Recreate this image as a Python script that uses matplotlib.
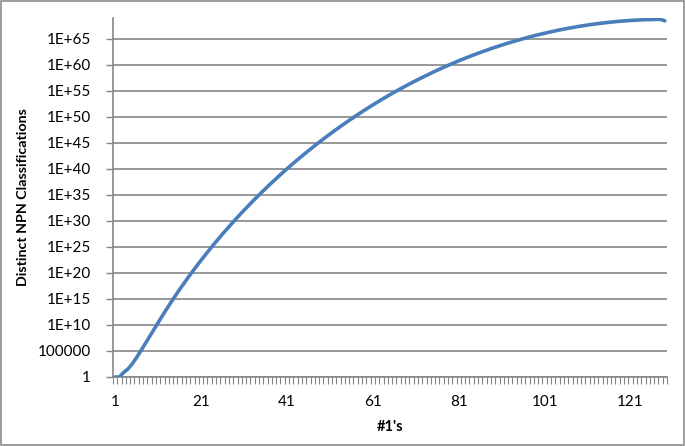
import numpy as np
from matplotlib import pyplot as plt
from matplotlib.patches import Rectangle
from matplotlib.ticker import FixedLocator, FuncFormatter

# number of ones (category axis 1..129)
ones = np.arange(1, 130)

# log10 of the distinct NPN classification count
log_classes = [
    0.00, 0.00, 0.90, 1.55, 2.55, 3.75, 5.05, 6.40, 7.75, 9.10,
    10.45, 11.78, 13.09, 14.36, 15.60, 16.81, 17.99, 19.14, 20.26, 21.36,
    22.43, 23.48, 24.51, 25.52, 26.51, 27.48, 28.42, 29.35, 30.27, 31.16,
    32.04, 32.90, 33.75, 34.58, 35.40, 36.20, 36.99, 37.76, 38.52, 39.27,
    40.01, 40.73, 41.44, 42.13, 42.82, 43.49, 44.15, 44.80, 45.44, 46.07,
    46.69, 47.29, 47.89, 48.48, 49.05, 49.62, 50.17, 50.72, 51.25, 51.78,
    52.29, 52.80, 53.30, 53.79, 54.27, 54.74, 55.20, 55.65, 56.09, 56.53,
    56.96, 57.37, 57.78, 58.19, 58.58, 58.96, 59.34, 59.71, 60.07, 60.42,
    60.77, 61.11, 61.43, 61.76, 62.07, 62.38, 62.67, 62.97, 63.25, 63.52,
    63.79, 64.05, 64.31, 64.55, 64.79, 65.03, 65.25, 65.47, 65.68, 65.88,
    66.08, 66.26, 66.45, 66.62, 66.79, 66.95, 67.10, 67.25, 67.39, 67.52,
    67.65, 67.77, 67.88, 67.98, 68.08, 68.17, 68.26, 68.34, 68.41, 68.47,
    68.53, 68.58, 68.63, 68.66, 68.69, 68.72, 68.73, 68.74, 68.45,
]

x_labels = [1, 21, 41, 61, 81, 101, 121]
y_exponents = list(range(0, 70, 5))

grey = "#868686"
blue = "#4A7EBB"


def y_label(value, pos):
    e = int(round(np.log10(value)))
    if e < 10:
        return str(int(round(value)))
    return "1E+%d" % e


def main():
    plt.rcParams["font.family"] = ["Lato", "DejaVu Sans"]

    fig = plt.figure(figsize=(6.85, 4.46), dpi=100)
    ax = fig.add_axes([113 / 685, 1 - 377 / 446, 554 / 685, 359 / 446])

    values = 10.0 ** np.array(log_classes)
    ax.plot(ones, values, color=blue, lw=2.6, solid_capstyle="round", zorder=3)

    ax.set_yscale("log")
    ax.set_ylim(1, 1e69)
    ax.set_xlim(0.5, 129.5)

    ax.yaxis.set_major_locator(FixedLocator([10.0 ** e for e in y_exponents]))
    ax.yaxis.set_minor_locator(FixedLocator([]))
    ax.yaxis.set_major_formatter(FuncFormatter(y_label))
    ax.grid(axis="y", color=grey, lw=1.2)
    ax.set_axisbelow(True)

    ax.xaxis.set_major_locator(FixedLocator(x_labels))
    ax.xaxis.set_minor_locator(FixedLocator(np.arange(0.5, 130, 1)))
    ax.tick_params(axis="x", which="major", length=0, pad=13, labelsize=11)
    ax.tick_params(axis="x", which="minor", length=5, width=0.8, color=grey,
                   direction="out")
    ax.tick_params(axis="y", which="major", length=5, width=1, color=grey,
                   direction="out", pad=11, labelsize=11)

    for side in ["top", "right"]:
        ax.spines[side].set_visible(False)
    for side in ["left", "bottom"]:
        ax.spines[side].set_color(grey)
        ax.spines[side].set_linewidth(1.2)

    ax.set_xlabel("#1's", fontweight="bold", fontsize=10.5, labelpad=8)
    ax.set_ylabel("Distinct NPN Classifications", fontweight="bold",
                  fontsize=10.3, labelpad=6)

    fig.patches.append(Rectangle((0.002, 0.003), 0.996, 0.994,
                                 transform=fig.transFigure, fill=False,
                                 edgecolor="#8c8c8c", lw=1.2))

    fig.savefig("out.png", dpi=100)


if __name__ == "__main__":
    main()
